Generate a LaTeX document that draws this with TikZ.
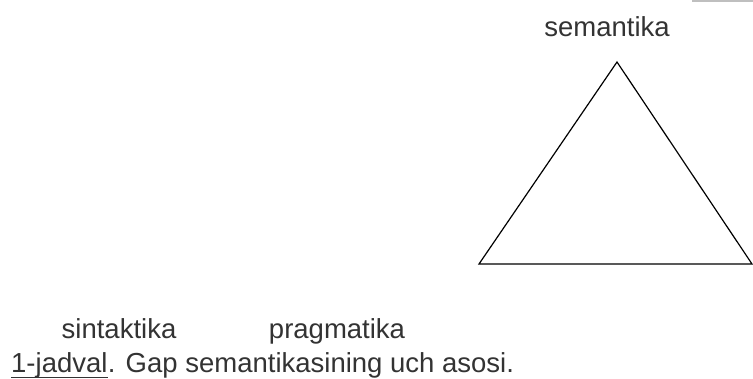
\documentclass[tikz,border=0pt]{standalone}
\usepackage{fontspec}
\setmainfont{Liberation Sans}
\usetikzlibrary{calc}
\definecolor{txtgray}{HTML}{333333}
\tikzset{lbl/.style={anchor=base, text=txtgray, font=\fontsize{27.5}{33}\selectfont, inner sep=0pt}}
\begin{document}
\begin{tikzpicture}[x=1pt,y=-1pt]
	\useasboundingbox (0,0) rectangle (753,379);
	\draw[black!25, line width=1.5pt] (692,1) -- (753,1);
	% triangle
	\coordinate (top) at (617,62);
	\coordinate (left) at (479,264);
	\coordinate (right) at (752,264);
	\draw[line width=1.2pt, line join=miter] (top) -- (left) -- (right) -- cycle;
	% labels
	\node[lbl] (sem) at (607,37) {semantika};
	\node[lbl] (sin) at (119,339) {sintaktika};
	\node[lbl] (prag) at (337,339) {pragmatika};
	\node[lbl, anchor=base west] (capnum) at (11,373) {1-jadval};
	\node[lbl, anchor=base west] (captxt) at (capnum.base east) {. Gap semantikasining uch asosi.};
	\draw[txtgray, line width=1pt] ($(capnum.base west)+(0,5)$) -- ($(capnum.base east)+(0,5)$);
\end{tikzpicture}
\end{document}
